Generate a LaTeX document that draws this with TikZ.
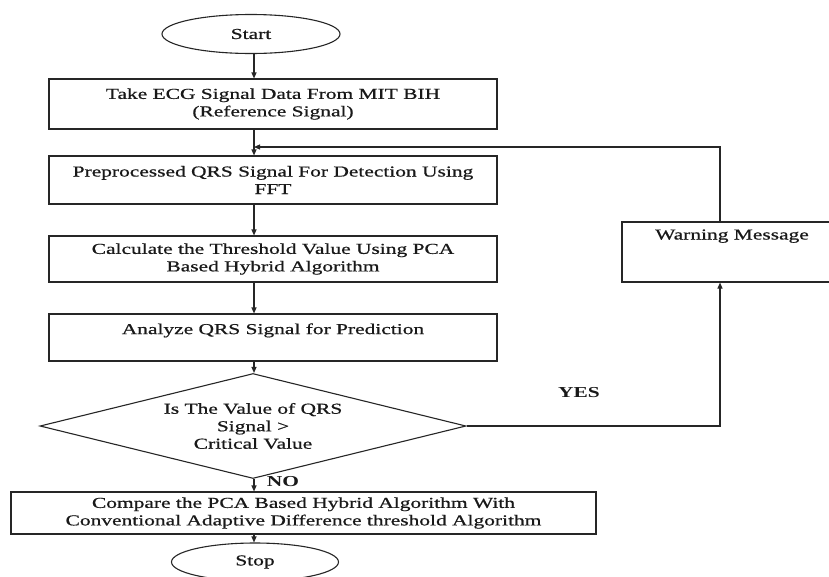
\documentclass[tikz,border=0pt]{standalone}
\usepackage{fontspec}
\setmainfont[FakeStretch=1.41,UprightFeatures={FakeBold=0.7}]{Liberation Serif}
\usetikzlibrary{shapes.geometric,arrows.meta}
\newcommand\fsz{\fontsize{15.2}{17.5}\selectfont}
\begin{document}
\begin{tikzpicture}[x=1pt,y=-1pt,
  line width=1.1pt, draw=black!85, text=black!90,
  box/.style={draw, rectangle, inner sep=0pt, align=center, font=\fsz},
  oval/.style={draw, ellipse, inner sep=0pt, font=\fsz, minimum width=178pt, minimum height=39pt},
  decision/.style={draw, diamond, aspect=4, inner sep=0pt, align=center, font=\fsz, minimum width=426pt, minimum height=105pt},
  lbl/.style={font=\fsz\bfseries},
  arr/.style={-{Triangle[length=6pt,width=5pt]}}
]
\clip (0,0) rectangle (829,576);
\fill[white] (0,0) rectangle (829,576);
\coordinate (c) at (254,0);
\coordinate (fb) at (720,147);

\node[oval] (start) at (251,34) {Start};
\node[box, minimum width=448pt, minimum height=50pt] (b1) at (273,104) {Take ECG Signal Data From MIT BIH\\(Reference Signal)};
\node[box, minimum width=448pt, minimum height=48pt] (b2) at (273,180) {Preprocessed QRS Signal For Detection Using\\FFT};
\node[box, minimum width=448pt, minimum height=46pt] (b3) at (273,259) {Calculate the Threshold Value Using PCA\\Based Hybrid Algorithm};
\node[box, minimum width=448pt, minimum height=47pt] (b4) at (273,337.5) {Analyze QRS Signal for Prediction\\\mbox{}};
\node[box, minimum width=220pt, minimum height=60pt] (warn) at (732,252) {Warning Message\\\mbox{}\\\mbox{}};
\node[decision] (dec) at (253,426) {Is The Value of QRS\\Signal {>}\\Critical Value};
\node[box, minimum width=585pt, minimum height=42pt] (b5) at (303.5,513) {Compare the PCA Based Hybrid Algorithm With\\Conventional Adaptive Difference threshold Algorithm};
\node[oval, minimum width=167pt, minimum height=38pt] (stop) at (255,562) {Stop};

\node[lbl] (yes) at (579,393) {YES};
\node[lbl] (no) at (283,482) {NO};

\draw[arr] (start.south -| c) -- (b1.north -| c);
\draw[arr] (b1.south -| c) -- (b2.north -| c);
\draw[arr] (b2.south -| c) -- (b3.north -| c);
\draw[arr] (b3.south -| c) -- (b4.north -| c);
\draw[arr] (b4.south -| c) -- (dec.north -| c);
\draw[arr] (dec.south -| c) -- (b5.north -| c);
\draw[arr] (b5.south -| c) -- (stop.north -| c);
\draw[arr] (dec.east) -- (dec.east -| fb) -- (warn.south -| fb);
\draw[arr] (warn.north -| fb) -- (fb) -- (fb -| c);
\end{tikzpicture}
\end{document}
